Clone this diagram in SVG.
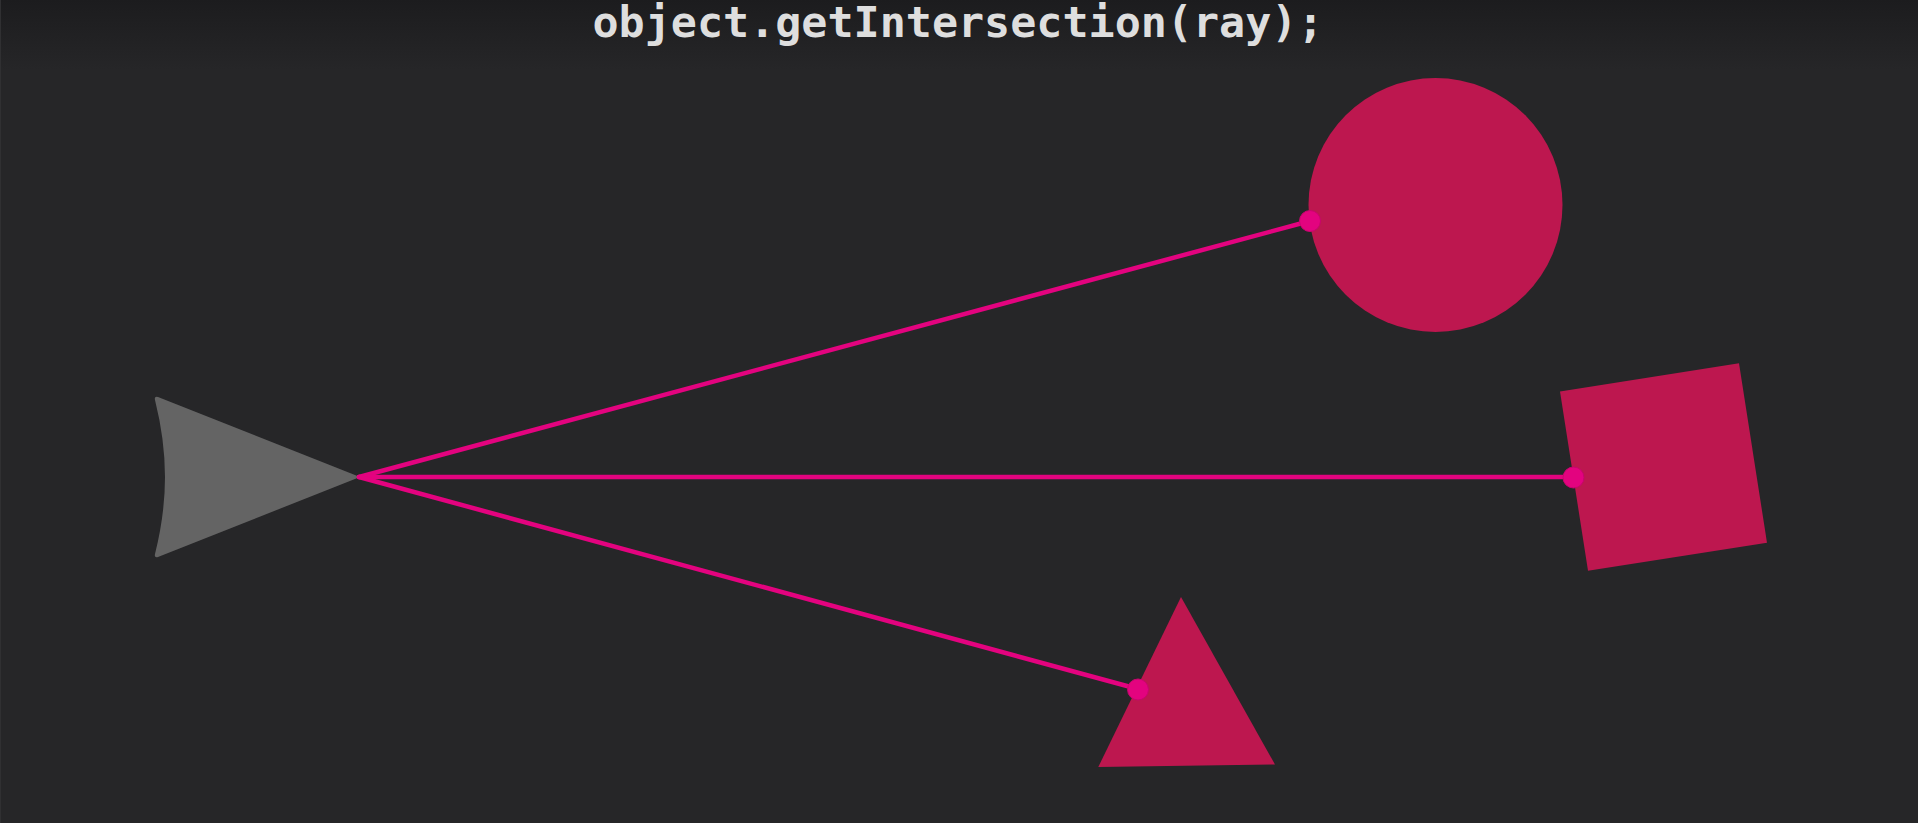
<svg xmlns="http://www.w3.org/2000/svg" width="1918" height="823" viewBox="0 0 1918 823">
  <defs>
    <linearGradient id="bg" x1="0" y1="0" x2="0" y2="1">
      <stop offset="0" stop-color="#1c1c1e"/>
      <stop offset="1" stop-color="#262628"/>
    </linearGradient>
    <style>
      .shape { fill: #bd174f; }
      .ray { stroke: #e3037f; stroke-width: 4.5; stroke-linecap: round; fill: none; }
      .hit { fill: #e3037f; stroke: #c8046e; stroke-width: 1; }
      .title { font-family: "DejaVu Sans Mono", "Liberation Mono", monospace; font-weight: bold; font-size: 43px; fill: #dedede; }
    </style>
  </defs>
  <rect width="1918" height="823" fill="#262628"/>
  <rect width="1918" height="70" fill="url(#bg)"/>
  <rect x="0" y="0" width="1" height="823" fill="#303032"/>

  <text class="title" x="958" y="37" text-anchor="middle" textLength="731" lengthAdjust="spacingAndGlyphs">object.getIntersection(ray);</text>

  <g id="camera">
    <path d="M158,397 Q154,396 155,400 Q165,440 165,477 Q165,514 155,554 Q154,558 158,557 L360,477 Z" fill="#646464"/>
  </g>

  <g id="circle">
    <circle class="shape" cx="1435.5" cy="205" r="127"/>
  </g>

  <g id="square">
    <polygon class="shape" points="1560,391.5 1739,363.3 1767,542.7 1588,570.7"/>
  </g>

  <g id="triangle">
    <polygon class="shape" points="1181,597 1275,764.5 1098.3,767"/>
  </g>

  <g id="rays">
    <line class="ray" x1="359" y1="477" x2="1310" y2="221"/>
    <line class="ray" x1="359" y1="477" x2="1573" y2="477"/>
    <line class="ray" x1="359" y1="477" x2="1138" y2="689"/>
    <circle class="hit" cx="1310" cy="221" r="10.5"/>
    <circle class="hit" cx="1573.5" cy="477.5" r="10.5"/>
    <circle class="hit" cx="1138" cy="689.5" r="10.5"/>
  </g>
</svg>
